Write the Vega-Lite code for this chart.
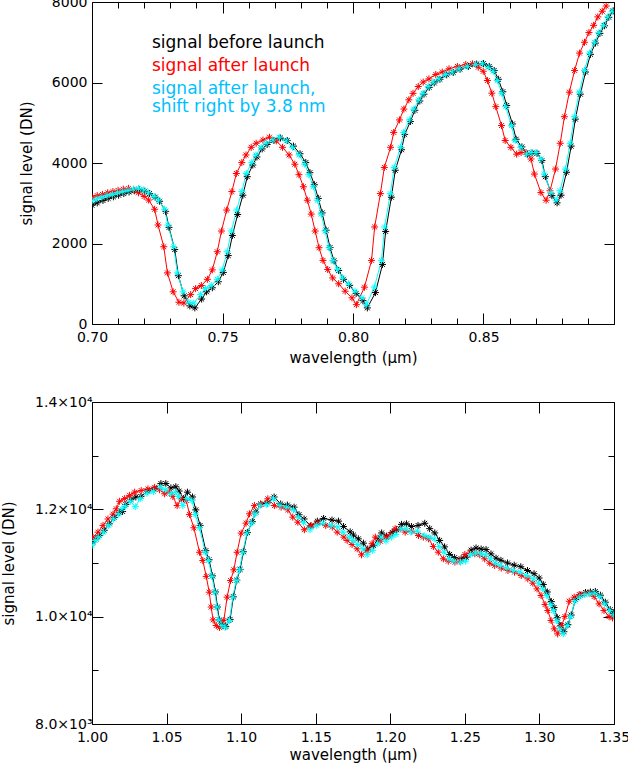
{
  "$schema": "https://vega.github.io/schema/vega-lite/v6.json",
  "background": "white",
  "padding": {"left": 1, "top": -6, "right": 0, "bottom": 0},
  "config": {
    "font": "DejaVu Sans",
    "view": {"stroke": "#000000", "strokeWidth": 1},
    "axis": {"domain": false, "grid": false, "tickColor": "#000000", "tickWidth": 1, "labelColor": "#000000", "labelFont": "DejaVu Sans", "labelFontSize": 14, "titleFont": "DejaVu Sans", "titleFontSize": 15, "titleFontWeight": "normal", "titleColor": "#000000", "labelOverlap": false, "labelFlush": false}
  },
  "bounds": "flush",
  "spacing": 78,
  "resolve": {"legend": {"color": "independent"}},
  "datasets": {
    "top": [
      {"series":"before","wl":0.7000,"sig":2950},{"series":"before","wl":0.7020,"sig":3010},{"series":"before","wl":0.7042,"sig":3070},{"series":"before","wl":0.7062,"sig":3120},{"series":"before","wl":0.7082,"sig":3160},{"series":"before","wl":0.7102,"sig":3200},{"series":"before","wl":0.7122,"sig":3240},{"series":"before","wl":0.7142,"sig":3280},{"series":"before","wl":0.7162,"sig":3310},{"series":"before","wl":0.7182,"sig":3330},{"series":"before","wl":0.7202,"sig":3300},{"series":"before","wl":0.7220,"sig":3240},{"series":"before","wl":0.7242,"sig":3150},{"series":"before","wl":0.7259,"sig":3050},{"series":"before","wl":0.7282,"sig":2800},{"series":"before","wl":0.7295,"sig":2400},{"series":"before","wl":0.7317,"sig":1850},{"series":"before","wl":0.7331,"sig":1200},{"series":"before","wl":0.7353,"sig":700},{"series":"before","wl":0.7375,"sig":450},{"series":"before","wl":0.7394,"sig":400},{"series":"before","wl":0.7420,"sig":620},{"series":"before","wl":0.7439,"sig":800},{"series":"before","wl":0.7461,"sig":900},{"series":"before","wl":0.7484,"sig":1050},{"series":"before","wl":0.7503,"sig":1280},{"series":"before","wl":0.7522,"sig":1700},{"series":"before","wl":0.7538,"sig":2200},{"series":"before","wl":0.7558,"sig":2720},{"series":"before","wl":0.7578,"sig":3200},{"series":"before","wl":0.7595,"sig":3660},{"series":"before","wl":0.7616,"sig":3950},{"series":"before","wl":0.7632,"sig":4150},{"series":"before","wl":0.7652,"sig":4350},{"series":"before","wl":0.7671,"sig":4460},{"series":"before","wl":0.7697,"sig":4560},{"series":"before","wl":0.7722,"sig":4620},{"series":"before","wl":0.7748,"sig":4560},{"series":"before","wl":0.7772,"sig":4420},{"series":"before","wl":0.7797,"sig":4230},{"series":"before","wl":0.7819,"sig":4010},{"series":"before","wl":0.7835,"sig":3760},{"series":"before","wl":0.7852,"sig":3460},{"series":"before","wl":0.7867,"sig":3120},{"series":"before","wl":0.7882,"sig":2760},{"series":"before","wl":0.7897,"sig":2330},{"series":"before","wl":0.7912,"sig":1900},{"series":"before","wl":0.7927,"sig":1570},{"series":"before","wl":0.7945,"sig":1330},{"series":"before","wl":0.7964,"sig":1110},{"series":"before","wl":0.7987,"sig":960},{"series":"before","wl":0.8012,"sig":760},{"series":"before","wl":0.8038,"sig":580},{"series":"before","wl":0.8055,"sig":400},{"series":"before","wl":0.8086,"sig":780},{"series":"before","wl":0.8113,"sig":1480},{"series":"before","wl":0.8125,"sig":2300},{"series":"before","wl":0.8147,"sig":3150},{"series":"before","wl":0.8162,"sig":3820},{"series":"before","wl":0.8186,"sig":4330},{"series":"before","wl":0.8198,"sig":4710},{"series":"before","wl":0.8220,"sig":5030},{"series":"before","wl":0.8237,"sig":5310},{"series":"before","wl":0.8256,"sig":5540},{"series":"before","wl":0.8272,"sig":5710},{"series":"before","wl":0.8292,"sig":5880},{"series":"before","wl":0.8311,"sig":5990},{"series":"before","wl":0.8333,"sig":6080},{"series":"before","wl":0.8359,"sig":6190},{"series":"before","wl":0.8384,"sig":6250},{"series":"before","wl":0.8410,"sig":6330},{"series":"before","wl":0.8442,"sig":6400},{"series":"before","wl":0.8474,"sig":6460},{"series":"before","wl":0.8500,"sig":6470},{"series":"before","wl":0.8522,"sig":6400},{"series":"before","wl":0.8541,"sig":6300},{"series":"before","wl":0.8557,"sig":6080},{"series":"before","wl":0.8574,"sig":5770},{"series":"before","wl":0.8589,"sig":5430},{"series":"before","wl":0.8611,"sig":4970},{"series":"before","wl":0.8625,"sig":4590},{"series":"before","wl":0.8647,"sig":4400},{"series":"before","wl":0.8669,"sig":4220},{"series":"before","wl":0.8686,"sig":4250},{"series":"before","wl":0.8705,"sig":4240},{"series":"before","wl":0.8724,"sig":4060},{"series":"before","wl":0.8737,"sig":3660},{"series":"before","wl":0.8762,"sig":3190},{"series":"before","wl":0.8782,"sig":3010},{"series":"before","wl":0.8797,"sig":3200},{"series":"before","wl":0.8818,"sig":3770},{"series":"before","wl":0.8836,"sig":4420},{"series":"before","wl":0.8852,"sig":5090},{"series":"before","wl":0.8871,"sig":5710},{"series":"before","wl":0.8891,"sig":6260},{"series":"before","wl":0.8910,"sig":6700},{"series":"before","wl":0.8929,"sig":6980},{"series":"before","wl":0.8946,"sig":7220},{"series":"before","wl":0.8964,"sig":7410},{"series":"before","wl":0.8980,"sig":7620},{"series":"before","wl":0.8997,"sig":7780},
      {"series":"after","wl":0.7000,"sig":3150},{"series":"after","wl":0.7020,"sig":3190},{"series":"after","wl":0.7040,"sig":3220},{"series":"after","wl":0.7060,"sig":3260},{"series":"after","wl":0.7080,"sig":3290},{"series":"after","wl":0.7100,"sig":3320},{"series":"after","wl":0.7120,"sig":3350},{"series":"after","wl":0.7140,"sig":3370},{"series":"after","wl":0.7160,"sig":3330},{"series":"after","wl":0.7178,"sig":3260},{"series":"after","wl":0.7200,"sig":3170},{"series":"after","wl":0.7217,"sig":3080},{"series":"after","wl":0.7240,"sig":2850},{"series":"after","wl":0.7253,"sig":2460},{"series":"after","wl":0.7275,"sig":1920},{"series":"after","wl":0.7289,"sig":1270},{"series":"after","wl":0.7311,"sig":800},{"series":"after","wl":0.7333,"sig":540},{"series":"after","wl":0.7352,"sig":520},{"series":"after","wl":0.7378,"sig":730},{"series":"after","wl":0.7397,"sig":880},{"series":"after","wl":0.7419,"sig":955},{"series":"after","wl":0.7442,"sig":1110},{"series":"after","wl":0.7461,"sig":1345},{"series":"after","wl":0.7480,"sig":1795},{"series":"after","wl":0.7496,"sig":2310},{"series":"after","wl":0.7516,"sig":2830},{"series":"after","wl":0.7536,"sig":3290},{"series":"after","wl":0.7553,"sig":3740},{"series":"after","wl":0.7574,"sig":4010},{"series":"after","wl":0.7590,"sig":4200},{"series":"after","wl":0.7610,"sig":4390},{"series":"after","wl":0.7629,"sig":4490},{"series":"after","wl":0.7655,"sig":4570},{"series":"after","wl":0.7680,"sig":4640},{"series":"after","wl":0.7706,"sig":4550},{"series":"after","wl":0.7730,"sig":4390},{"series":"after","wl":0.7755,"sig":4200},{"series":"after","wl":0.7777,"sig":3970},{"series":"after","wl":0.7793,"sig":3710},{"series":"after","wl":0.7810,"sig":3410},{"series":"after","wl":0.7825,"sig":3075},{"series":"after","wl":0.7840,"sig":2730},{"series":"after","wl":0.7855,"sig":2310},{"series":"after","wl":0.7870,"sig":1895},{"series":"after","wl":0.7885,"sig":1580},{"series":"after","wl":0.7903,"sig":1355},{"series":"after","wl":0.7922,"sig":1145},{"series":"after","wl":0.7945,"sig":1000},{"series":"after","wl":0.7970,"sig":815},{"series":"after","wl":0.7996,"sig":650},{"series":"after","wl":0.8013,"sig":480},{"series":"after","wl":0.8044,"sig":915},{"series":"after","wl":0.8071,"sig":1580},{"series":"after","wl":0.8083,"sig":2410},{"series":"after","wl":0.8105,"sig":3240},{"series":"after","wl":0.8120,"sig":3890},{"series":"after","wl":0.8144,"sig":4390},{"series":"after","wl":0.8156,"sig":4760},{"series":"after","wl":0.8178,"sig":5070},{"series":"after","wl":0.8195,"sig":5340},{"series":"after","wl":0.8214,"sig":5570},{"series":"after","wl":0.8230,"sig":5730},{"series":"after","wl":0.8250,"sig":5900},{"series":"after","wl":0.8269,"sig":6010},{"series":"after","wl":0.8291,"sig":6090},{"series":"after","wl":0.8317,"sig":6200},{"series":"after","wl":0.8342,"sig":6260},{"series":"after","wl":0.8368,"sig":6340},{"series":"after","wl":0.8400,"sig":6400},{"series":"after","wl":0.8432,"sig":6450},{"series":"after","wl":0.8458,"sig":6465},{"series":"after","wl":0.8480,"sig":6380},{"series":"after","wl":0.8499,"sig":6280},{"series":"after","wl":0.8515,"sig":6050},{"series":"after","wl":0.8532,"sig":5735},{"series":"after","wl":0.8547,"sig":5400},{"series":"after","wl":0.8569,"sig":4930},{"series":"after","wl":0.8583,"sig":4560},{"series":"after","wl":0.8605,"sig":4390},{"series":"after","wl":0.8627,"sig":4220},{"series":"after","wl":0.8644,"sig":4260},{"series":"after","wl":0.8663,"sig":4260},{"series":"after","wl":0.8682,"sig":4100},{"series":"after","wl":0.8695,"sig":3725},{"series":"after","wl":0.8720,"sig":3265},{"series":"after","wl":0.8740,"sig":3075},{"series":"after","wl":0.8755,"sig":3310},{"series":"after","wl":0.8776,"sig":3850},{"series":"after","wl":0.8794,"sig":4490},{"series":"after","wl":0.8810,"sig":5150},{"series":"after","wl":0.8829,"sig":5760},{"series":"after","wl":0.8849,"sig":6300},{"series":"after","wl":0.8868,"sig":6730},{"series":"after","wl":0.8887,"sig":7000},{"series":"after","wl":0.8904,"sig":7240},{"series":"after","wl":0.8922,"sig":7420},{"series":"after","wl":0.8938,"sig":7630},{"series":"after","wl":0.8955,"sig":7770},{"series":"after","wl":0.8970,"sig":7900},
      {"series":"shifted","wl":0.7000,"sig":3060},{"series":"shifted","wl":0.7019,"sig":3110},{"series":"shifted","wl":0.7038,"sig":3150},{"series":"shifted","wl":0.7058,"sig":3190},{"series":"shifted","wl":0.7078,"sig":3220},{"series":"shifted","wl":0.7098,"sig":3260},{"series":"shifted","wl":0.7118,"sig":3290},{"series":"shifted","wl":0.7138,"sig":3320},{"series":"shifted","wl":0.7158,"sig":3350},{"series":"shifted","wl":0.7178,"sig":3370},{"series":"shifted","wl":0.7198,"sig":3330},{"series":"shifted","wl":0.7216,"sig":3260},{"series":"shifted","wl":0.7238,"sig":3170},{"series":"shifted","wl":0.7255,"sig":3080},{"series":"shifted","wl":0.7278,"sig":2850},{"series":"shifted","wl":0.7291,"sig":2460},{"series":"shifted","wl":0.7313,"sig":1920},{"series":"shifted","wl":0.7327,"sig":1270},{"series":"shifted","wl":0.7349,"sig":800},{"series":"shifted","wl":0.7371,"sig":540},{"series":"shifted","wl":0.7390,"sig":520},{"series":"shifted","wl":0.7416,"sig":730},{"series":"shifted","wl":0.7435,"sig":880},{"series":"shifted","wl":0.7457,"sig":955},{"series":"shifted","wl":0.7480,"sig":1110},{"series":"shifted","wl":0.7499,"sig":1345},{"series":"shifted","wl":0.7518,"sig":1795},{"series":"shifted","wl":0.7534,"sig":2310},{"series":"shifted","wl":0.7554,"sig":2830},{"series":"shifted","wl":0.7574,"sig":3290},{"series":"shifted","wl":0.7591,"sig":3740},{"series":"shifted","wl":0.7612,"sig":4010},{"series":"shifted","wl":0.7628,"sig":4200},{"series":"shifted","wl":0.7648,"sig":4390},{"series":"shifted","wl":0.7667,"sig":4490},{"series":"shifted","wl":0.7693,"sig":4570},{"series":"shifted","wl":0.7718,"sig":4640},{"series":"shifted","wl":0.7744,"sig":4550},{"series":"shifted","wl":0.7768,"sig":4390},{"series":"shifted","wl":0.7793,"sig":4200},{"series":"shifted","wl":0.7815,"sig":3970},{"series":"shifted","wl":0.7831,"sig":3710},{"series":"shifted","wl":0.7848,"sig":3410},{"series":"shifted","wl":0.7863,"sig":3075},{"series":"shifted","wl":0.7878,"sig":2730},{"series":"shifted","wl":0.7893,"sig":2310},{"series":"shifted","wl":0.7908,"sig":1895},{"series":"shifted","wl":0.7923,"sig":1580},{"series":"shifted","wl":0.7941,"sig":1355},{"series":"shifted","wl":0.7960,"sig":1145},{"series":"shifted","wl":0.7983,"sig":1000},{"series":"shifted","wl":0.8008,"sig":815},{"series":"shifted","wl":0.8034,"sig":650},{"series":"shifted","wl":0.8051,"sig":480},{"series":"shifted","wl":0.8082,"sig":915},{"series":"shifted","wl":0.8109,"sig":1580},{"series":"shifted","wl":0.8121,"sig":2410},{"series":"shifted","wl":0.8143,"sig":3240},{"series":"shifted","wl":0.8158,"sig":3890},{"series":"shifted","wl":0.8182,"sig":4390},{"series":"shifted","wl":0.8194,"sig":4760},{"series":"shifted","wl":0.8216,"sig":5070},{"series":"shifted","wl":0.8233,"sig":5340},{"series":"shifted","wl":0.8252,"sig":5570},{"series":"shifted","wl":0.8268,"sig":5730},{"series":"shifted","wl":0.8288,"sig":5900},{"series":"shifted","wl":0.8307,"sig":6010},{"series":"shifted","wl":0.8329,"sig":6090},{"series":"shifted","wl":0.8355,"sig":6200},{"series":"shifted","wl":0.8380,"sig":6260},{"series":"shifted","wl":0.8406,"sig":6340},{"series":"shifted","wl":0.8438,"sig":6400},{"series":"shifted","wl":0.8470,"sig":6450},{"series":"shifted","wl":0.8496,"sig":6465},{"series":"shifted","wl":0.8518,"sig":6380},{"series":"shifted","wl":0.8537,"sig":6280},{"series":"shifted","wl":0.8553,"sig":6050},{"series":"shifted","wl":0.8570,"sig":5735},{"series":"shifted","wl":0.8585,"sig":5400},{"series":"shifted","wl":0.8607,"sig":4930},{"series":"shifted","wl":0.8621,"sig":4560},{"series":"shifted","wl":0.8643,"sig":4390},{"series":"shifted","wl":0.8665,"sig":4220},{"series":"shifted","wl":0.8682,"sig":4260},{"series":"shifted","wl":0.8701,"sig":4260},{"series":"shifted","wl":0.8720,"sig":4100},{"series":"shifted","wl":0.8733,"sig":3725},{"series":"shifted","wl":0.8758,"sig":3265},{"series":"shifted","wl":0.8778,"sig":3075},{"series":"shifted","wl":0.8793,"sig":3310},{"series":"shifted","wl":0.8814,"sig":3850},{"series":"shifted","wl":0.8832,"sig":4490},{"series":"shifted","wl":0.8848,"sig":5150},{"series":"shifted","wl":0.8867,"sig":5760},{"series":"shifted","wl":0.8887,"sig":6300},{"series":"shifted","wl":0.8906,"sig":6730},{"series":"shifted","wl":0.8925,"sig":7000},{"series":"shifted","wl":0.8942,"sig":7240},{"series":"shifted","wl":0.8960,"sig":7420},{"series":"shifted","wl":0.8976,"sig":7630},{"series":"shifted","wl":0.8993,"sig":7770}
    ],
    "bottom": [
      {"series":"before","wl":1.0004,"sig":11390},{"series":"before","wl":1.0026,"sig":11450},{"series":"before","wl":1.0049,"sig":11510},{"series":"before","wl":1.0082,"sig":11610},{"series":"before","wl":1.0116,"sig":11730},{"series":"before","wl":1.0149,"sig":11850},{"series":"before","wl":1.0183,"sig":11940},{"series":"before","wl":1.0205,"sig":11960},{"series":"before","wl":1.0227,"sig":12090},{"series":"before","wl":1.0261,"sig":12180},{"series":"before","wl":1.0294,"sig":12230},{"series":"before","wl":1.0328,"sig":12240},{"series":"before","wl":1.0372,"sig":12340},{"series":"before","wl":1.0417,"sig":12380},{"series":"before","wl":1.0462,"sig":12480},{"series":"before","wl":1.0495,"sig":12480},{"series":"before","wl":1.0529,"sig":12400},{"series":"before","wl":1.0562,"sig":12420},{"series":"before","wl":1.0584,"sig":12340},{"series":"before","wl":1.0613,"sig":12200},{"series":"before","wl":1.0640,"sig":12320},{"series":"before","wl":1.0674,"sig":12230},{"series":"before","wl":1.0696,"sig":11990},{"series":"before","wl":1.0725,"sig":11700},{"series":"before","wl":1.0763,"sig":11230},{"series":"before","wl":1.0785,"sig":11060},{"series":"before","wl":1.0808,"sig":10760},{"series":"before","wl":1.0828,"sig":10460},{"series":"before","wl":1.0841,"sig":10180},{"series":"before","wl":1.0854,"sig":9940},{"series":"before","wl":1.0875,"sig":9840},{"series":"before","wl":1.0897,"sig":9820},{"series":"before","wl":1.0926,"sig":9950},{"series":"before","wl":1.0948,"sig":10370},{"series":"before","wl":1.0971,"sig":10680},{"series":"before","wl":1.0993,"sig":10880},{"series":"before","wl":1.1015,"sig":11210},{"series":"before","wl":1.1042,"sig":11570},{"series":"before","wl":1.1075,"sig":11770},{"series":"before","wl":1.1098,"sig":11950},{"series":"before","wl":1.1131,"sig":12100},{"series":"before","wl":1.1176,"sig":12120},{"series":"before","wl":1.1221,"sig":12230},{"series":"before","wl":1.1265,"sig":12100},{"series":"before","wl":1.1310,"sig":12080},{"series":"before","wl":1.1355,"sig":12040},{"series":"before","wl":1.1388,"sig":11900},{"series":"before","wl":1.1422,"sig":11820},{"series":"before","wl":1.1466,"sig":11690},{"series":"before","wl":1.1511,"sig":11780},{"series":"before","wl":1.1553,"sig":11830},{"series":"before","wl":1.1609,"sig":11800},{"series":"before","wl":1.1653,"sig":11780},{"series":"before","wl":1.1686,"sig":11680},{"series":"before","wl":1.1731,"sig":11580},{"series":"before","wl":1.1753,"sig":11520},{"series":"before","wl":1.1786,"sig":11450},{"series":"before","wl":1.1820,"sig":11370},{"series":"before","wl":1.1849,"sig":11260},{"series":"before","wl":1.1886,"sig":11330},{"series":"before","wl":1.1920,"sig":11450},{"series":"before","wl":1.1942,"sig":11560},{"series":"before","wl":1.1975,"sig":11500},{"series":"before","wl":1.2013,"sig":11570},{"series":"before","wl":1.2042,"sig":11620},{"series":"before","wl":1.2075,"sig":11720},{"series":"before","wl":1.2109,"sig":11730},{"series":"before","wl":1.2142,"sig":11680},{"series":"before","wl":1.2186,"sig":11700},{"series":"before","wl":1.2231,"sig":11740},{"series":"before","wl":1.2264,"sig":11640},{"series":"before","wl":1.2298,"sig":11560},{"series":"before","wl":1.2331,"sig":11420},{"series":"before","wl":1.2364,"sig":11300},{"series":"before","wl":1.2398,"sig":11160},{"series":"before","wl":1.2431,"sig":11100},{"series":"before","wl":1.2475,"sig":11080},{"series":"before","wl":1.2509,"sig":11110},{"series":"before","wl":1.2542,"sig":11240},{"series":"before","wl":1.2575,"sig":11280},{"series":"before","wl":1.2609,"sig":11260},{"series":"before","wl":1.2642,"sig":11250},{"series":"before","wl":1.2675,"sig":11170},{"series":"before","wl":1.2709,"sig":11090},{"series":"before","wl":1.2742,"sig":11050},{"series":"before","wl":1.2786,"sig":11000},{"series":"before","wl":1.2831,"sig":10960},{"series":"before","wl":1.2875,"sig":10930},{"series":"before","wl":1.2920,"sig":10860},{"series":"before","wl":1.2964,"sig":10800},{"series":"before","wl":1.2998,"sig":10720},{"series":"before","wl":1.3026,"sig":10600},{"series":"before","wl":1.3053,"sig":10460},{"series":"before","wl":1.3080,"sig":10280},{"series":"before","wl":1.3098,"sig":10170},{"series":"before","wl":1.3120,"sig":9980},{"series":"before","wl":1.3142,"sig":9830},{"series":"before","wl":1.3164,"sig":9720},{"series":"before","wl":1.3191,"sig":9850},{"series":"before","wl":1.3213,"sig":10030},{"series":"before","wl":1.3242,"sig":10320},{"series":"before","wl":1.3275,"sig":10400},{"series":"before","wl":1.3309,"sig":10450},{"series":"before","wl":1.3342,"sig":10460},{"series":"before","wl":1.3375,"sig":10470},{"series":"before","wl":1.3409,"sig":10400},{"series":"before","wl":1.3442,"sig":10270},{"series":"before","wl":1.3475,"sig":10130},{"series":"before","wl":1.3498,"sig":10060},
      {"series":"after","wl":1.0007,"sig":11480},{"series":"after","wl":1.0040,"sig":11575},{"series":"after","wl":1.0074,"sig":11700},{"series":"after","wl":1.0107,"sig":11820},{"series":"after","wl":1.0141,"sig":11910},{"series":"after","wl":1.0163,"sig":12010},{"series":"after","wl":1.0185,"sig":12150},{"series":"after","wl":1.0219,"sig":12200},{"series":"after","wl":1.0252,"sig":12260},{"series":"after","wl":1.0286,"sig":12320},{"series":"after","wl":1.0330,"sig":12350},{"series":"after","wl":1.0375,"sig":12380},{"series":"after","wl":1.0420,"sig":12410},{"series":"after","wl":1.0453,"sig":12365},{"series":"after","wl":1.0487,"sig":12290},{"series":"after","wl":1.0520,"sig":12320},{"series":"after","wl":1.0542,"sig":12240},{"series":"after","wl":1.0571,"sig":12070},{"series":"after","wl":1.0598,"sig":12200},{"series":"after","wl":1.0632,"sig":12165},{"series":"after","wl":1.0654,"sig":11905},{"series":"after","wl":1.0683,"sig":11656},{"series":"after","wl":1.0721,"sig":11200},{"series":"after","wl":1.0743,"sig":11047},{"series":"after","wl":1.0766,"sig":10750},{"series":"after","wl":1.0786,"sig":10456},{"series":"after","wl":1.0799,"sig":10180},{"series":"after","wl":1.0812,"sig":9940},{"series":"after","wl":1.0833,"sig":9835},{"series":"after","wl":1.0855,"sig":9800},{"series":"after","wl":1.0884,"sig":9928},{"series":"after","wl":1.0906,"sig":10363},{"series":"after","wl":1.0929,"sig":10674},{"series":"after","wl":1.0951,"sig":10873},{"series":"after","wl":1.0973,"sig":11200},{"series":"after","wl":1.1000,"sig":11557},{"series":"after","wl":1.1033,"sig":11743},{"series":"after","wl":1.1056,"sig":11917},{"series":"after","wl":1.1089,"sig":12070},{"series":"after","wl":1.1134,"sig":12090},{"series":"after","wl":1.1179,"sig":12197},{"series":"after","wl":1.1223,"sig":12070},{"series":"after","wl":1.1268,"sig":12040},{"series":"after","wl":1.1313,"sig":11990},{"series":"after","wl":1.1346,"sig":11855},{"series":"after","wl":1.1380,"sig":11760},{"series":"after","wl":1.1424,"sig":11620},{"series":"after","wl":1.1469,"sig":11700},{"series":"after","wl":1.1511,"sig":11743},{"series":"after","wl":1.1567,"sig":11700},{"series":"after","wl":1.1611,"sig":11670},{"series":"after","wl":1.1644,"sig":11575},{"series":"after","wl":1.1689,"sig":11482},{"series":"after","wl":1.1711,"sig":11420},{"series":"after","wl":1.1744,"sig":11345},{"series":"after","wl":1.1778,"sig":11265},{"series":"after","wl":1.1807,"sig":11153},{"series":"after","wl":1.1844,"sig":11234},{"series":"after","wl":1.1878,"sig":11360},{"series":"after","wl":1.1900,"sig":11482},{"series":"after","wl":1.1933,"sig":11407},{"series":"after","wl":1.1971,"sig":11482},{"series":"after","wl":1.2000,"sig":11532},{"series":"after","wl":1.2033,"sig":11638},{"series":"after","wl":1.2067,"sig":11638},{"series":"after","wl":1.2100,"sig":11575},{"series":"after","wl":1.2144,"sig":11594},{"series":"after","wl":1.2189,"sig":11513},{"series":"after","wl":1.2222,"sig":11482},{"series":"after","wl":1.2256,"sig":11450},{"series":"after","wl":1.2289,"sig":11308},{"series":"after","wl":1.2322,"sig":11202},{"series":"after","wl":1.2356,"sig":11078},{"series":"after","wl":1.2389,"sig":11034},{"series":"after","wl":1.2433,"sig":11016},{"series":"after","wl":1.2467,"sig":11034},{"series":"after","wl":1.2500,"sig":11159},{"series":"after","wl":1.2533,"sig":11184},{"series":"after","wl":1.2567,"sig":11171},{"series":"after","wl":1.2600,"sig":11153},{"series":"after","wl":1.2633,"sig":11078},{"series":"after","wl":1.2667,"sig":10997},{"series":"after","wl":1.2700,"sig":10954},{"series":"after","wl":1.2744,"sig":10904},{"series":"after","wl":1.2789,"sig":10860},{"series":"after","wl":1.2833,"sig":10829},{"series":"after","wl":1.2878,"sig":10767},{"series":"after","wl":1.2922,"sig":10705},{"series":"after","wl":1.2956,"sig":10624},{"series":"after","wl":1.2984,"sig":10518},{"series":"after","wl":1.3011,"sig":10394},{"series":"after","wl":1.3038,"sig":10226},{"series":"after","wl":1.3056,"sig":10114},{"series":"after","wl":1.3078,"sig":9928},{"series":"after","wl":1.3100,"sig":9772},{"series":"after","wl":1.3122,"sig":9679},{"series":"after","wl":1.3149,"sig":9835},{"series":"after","wl":1.3171,"sig":10002},{"series":"after","wl":1.3200,"sig":10288},{"series":"after","wl":1.3233,"sig":10363},{"series":"after","wl":1.3267,"sig":10413},{"series":"after","wl":1.3300,"sig":10425},{"series":"after","wl":1.3333,"sig":10438},{"series":"after","wl":1.3367,"sig":10375},{"series":"after","wl":1.3400,"sig":10239},{"series":"after","wl":1.3433,"sig":10114},{"series":"after","wl":1.3467,"sig":10002},{"series":"after","wl":1.3490,"sig":9977},
      {"series":"shifted","wl":1.0000,"sig":11330},{"series":"shifted","wl":1.0022,"sig":11420},{"series":"shifted","wl":1.0045,"sig":11480},{"series":"shifted","wl":1.0078,"sig":11575},{"series":"shifted","wl":1.0112,"sig":11700},{"series":"shifted","wl":1.0145,"sig":11820},{"series":"shifted","wl":1.0179,"sig":11910},{"series":"shifted","wl":1.0201,"sig":12010},{"series":"shifted","wl":1.0223,"sig":12060},{"series":"shifted","wl":1.0257,"sig":12150},{"series":"shifted","wl":1.0290,"sig":12050},{"series":"shifted","wl":1.0324,"sig":12200},{"series":"shifted","wl":1.0368,"sig":12300},{"series":"shifted","wl":1.0413,"sig":12330},{"series":"shifted","wl":1.0458,"sig":12410},{"series":"shifted","wl":1.0491,"sig":12365},{"series":"shifted","wl":1.0525,"sig":12290},{"series":"shifted","wl":1.0558,"sig":12320},{"series":"shifted","wl":1.0580,"sig":12240},{"series":"shifted","wl":1.0609,"sig":12070},{"series":"shifted","wl":1.0636,"sig":12200},{"series":"shifted","wl":1.0670,"sig":12165},{"series":"shifted","wl":1.0692,"sig":11905},{"series":"shifted","wl":1.0721,"sig":11656},{"series":"shifted","wl":1.0759,"sig":11200},{"series":"shifted","wl":1.0781,"sig":11047},{"series":"shifted","wl":1.0804,"sig":10750},{"series":"shifted","wl":1.0824,"sig":10456},{"series":"shifted","wl":1.0837,"sig":10180},{"series":"shifted","wl":1.0850,"sig":9940},{"series":"shifted","wl":1.0871,"sig":9835},{"series":"shifted","wl":1.0893,"sig":9800},{"series":"shifted","wl":1.0922,"sig":9928},{"series":"shifted","wl":1.0944,"sig":10363},{"series":"shifted","wl":1.0967,"sig":10674},{"series":"shifted","wl":1.0989,"sig":10873},{"series":"shifted","wl":1.1011,"sig":11200},{"series":"shifted","wl":1.1038,"sig":11557},{"series":"shifted","wl":1.1071,"sig":11743},{"series":"shifted","wl":1.1094,"sig":11917},{"series":"shifted","wl":1.1127,"sig":12070},{"series":"shifted","wl":1.1172,"sig":12090},{"series":"shifted","wl":1.1217,"sig":12197},{"series":"shifted","wl":1.1261,"sig":12070},{"series":"shifted","wl":1.1306,"sig":12040},{"series":"shifted","wl":1.1351,"sig":11990},{"series":"shifted","wl":1.1384,"sig":11855},{"series":"shifted","wl":1.1418,"sig":11760},{"series":"shifted","wl":1.1462,"sig":11620},{"series":"shifted","wl":1.1507,"sig":11700},{"series":"shifted","wl":1.1549,"sig":11743},{"series":"shifted","wl":1.1605,"sig":11700},{"series":"shifted","wl":1.1649,"sig":11670},{"series":"shifted","wl":1.1682,"sig":11575},{"series":"shifted","wl":1.1727,"sig":11482},{"series":"shifted","wl":1.1749,"sig":11420},{"series":"shifted","wl":1.1782,"sig":11345},{"series":"shifted","wl":1.1816,"sig":11265},{"series":"shifted","wl":1.1845,"sig":11153},{"series":"shifted","wl":1.1882,"sig":11234},{"series":"shifted","wl":1.1916,"sig":11360},{"series":"shifted","wl":1.1938,"sig":11482},{"series":"shifted","wl":1.1971,"sig":11407},{"series":"shifted","wl":1.2009,"sig":11482},{"series":"shifted","wl":1.2038,"sig":11532},{"series":"shifted","wl":1.2071,"sig":11638},{"series":"shifted","wl":1.2105,"sig":11638},{"series":"shifted","wl":1.2138,"sig":11575},{"series":"shifted","wl":1.2182,"sig":11594},{"series":"shifted","wl":1.2227,"sig":11513},{"series":"shifted","wl":1.2260,"sig":11482},{"series":"shifted","wl":1.2294,"sig":11450},{"series":"shifted","wl":1.2327,"sig":11308},{"series":"shifted","wl":1.2360,"sig":11202},{"series":"shifted","wl":1.2394,"sig":11078},{"series":"shifted","wl":1.2427,"sig":11034},{"series":"shifted","wl":1.2471,"sig":11016},{"series":"shifted","wl":1.2505,"sig":11034},{"series":"shifted","wl":1.2538,"sig":11159},{"series":"shifted","wl":1.2571,"sig":11184},{"series":"shifted","wl":1.2605,"sig":11171},{"series":"shifted","wl":1.2638,"sig":11153},{"series":"shifted","wl":1.2671,"sig":11078},{"series":"shifted","wl":1.2705,"sig":10997},{"series":"shifted","wl":1.2738,"sig":10954},{"series":"shifted","wl":1.2782,"sig":10904},{"series":"shifted","wl":1.2827,"sig":10860},{"series":"shifted","wl":1.2871,"sig":10829},{"series":"shifted","wl":1.2916,"sig":10767},{"series":"shifted","wl":1.2960,"sig":10705},{"series":"shifted","wl":1.2994,"sig":10624},{"series":"shifted","wl":1.3022,"sig":10518},{"series":"shifted","wl":1.3049,"sig":10394},{"series":"shifted","wl":1.3076,"sig":10226},{"series":"shifted","wl":1.3094,"sig":10114},{"series":"shifted","wl":1.3116,"sig":9928},{"series":"shifted","wl":1.3138,"sig":9772},{"series":"shifted","wl":1.3160,"sig":9679},{"series":"shifted","wl":1.3187,"sig":9835},{"series":"shifted","wl":1.3209,"sig":10002},{"series":"shifted","wl":1.3238,"sig":10288},{"series":"shifted","wl":1.3271,"sig":10363},{"series":"shifted","wl":1.3305,"sig":10413},{"series":"shifted","wl":1.3338,"sig":10425},{"series":"shifted","wl":1.3371,"sig":10438},{"series":"shifted","wl":1.3405,"sig":10375},{"series":"shifted","wl":1.3438,"sig":10239},{"series":"shifted","wl":1.3471,"sig":10114},{"series":"shifted","wl":1.3498,"sig":10030}
    ]
  },
  "vconcat": [
    {
      "width": 522,
      "height": 322,
      "data": {"name": "top"},
      "encoding": {
        "color": {
          "field": "series", "type": "nominal",
          "scale": {"domain": ["before", "after", "shifted"], "range": ["#000000", "#ff0000", "#00ffff"]},
          "legend": {
            "orient": "none", "legendX": 43, "legendY": 32, "title": null,
            "symbolSize": 0, "symbolStrokeWidth": 0, "symbolOpacity": 0, "labelOffset": 0,
            "labelFont": "DejaVu Sans", "labelFontSize": 17, "labelLimit": 500, "rowPadding": 5,
            "labelExpr": "datum.value == 'shifted' ? ['signal after launch,', 'shift right by 3.8 nm'] : datum.value == 'before' ? 'signal before launch' : 'signal after launch'",
            "encode": {"labels": {"update": {"fill": {"signal": "datum.value == 'before' ? '#000000' : datum.value == 'after' ? '#ff0000' : '#00bfff'"}, "lineHeight": {"value": 18}}}}
          }
        }
      },
      "layer": [
        {
          "mark": {"type": "line", "strokeWidth": 1, "clip": true},
          "encoding": {
            "x": {"field": "wl", "type": "quantitative", "scale": {"domain": [0.7, 0.9], "nice": false, "zero": false},
              "axis": {"orient": "bottom", "title": "wavelength (μm)", "titlePadding": 1, "labelPadding": 17,
                "values": [0.70,0.71,0.72,0.73,0.74,0.75,0.76,0.77,0.78,0.79,0.80,0.81,0.82,0.83,0.84,0.85,0.86,0.87,0.88,0.89,0.90],
                "tickSize": {"condition": {"test": "round(datum.value*100) % 5 == 0", "value": -11}, "value": -6},
                "labelExpr": "round(datum.value*100) % 5 == 0 && datum.value < 0.895 ? format(datum.value, '.2f') : ''"}},
            "y": {"field": "sig", "type": "quantitative", "scale": {"domain": [0, 8000], "nice": false},
              "axis": {"orient": "left", "title": "signal level (DN)", "titlePadding": 17, "labelPadding": 15,
                "values": [0, 2000, 4000, 6000, 8000], "tickSize": -10, "format": "d"}}
          }
        },
        {
          "mark": {"type": "point", "shape": "M-1,0L1,0M0,-1L0,1M-0.7,-0.7L0.7,0.7M-0.7,0.7L0.7,-0.7", "size": 49, "strokeWidth": 1, "filled": false, "opacity": 1, "clip": true},
          "encoding": {
            "x": {"field": "wl", "type": "quantitative",
              "axis": {"orient": "top", "title": null, "labels": false,
                "values": [0.70,0.71,0.72,0.73,0.74,0.75,0.76,0.77,0.78,0.79,0.80,0.81,0.82,0.83,0.84,0.85,0.86,0.87,0.88,0.89,0.90],
                "tickSize": {"condition": {"test": "round(datum.value*100) % 5 == 0", "value": -11}, "value": -6}}},
            "y": {"field": "sig", "type": "quantitative",
              "axis": {"orient": "right", "title": null, "labels": false, "values": [0, 2000, 4000, 6000, 8000], "tickSize": -10}}
          }
        }
      ]
    },
    {
      "width": 522,
      "height": 322,
      "data": {"name": "bottom"},
      "encoding": {
        "color": {
          "field": "series", "type": "nominal",
          "scale": {"domain": ["before", "after", "shifted"], "range": ["#000000", "#ff0000", "#00ffff"]},
          "legend": null
        }
      },
      "layer": [
        {
          "mark": {"type": "line", "strokeWidth": 1, "clip": true},
          "encoding": {
            "x": {"field": "wl", "type": "quantitative", "scale": {"domain": [1.0, 1.35], "nice": false, "zero": false},
              "axis": {"orient": "bottom", "title": "wavelength (μm)", "titlePadding": 3, "labelPadding": 17,
                "values": [1.0, 1.05, 1.1, 1.15, 1.2, 1.25, 1.3, 1.35], "tickSize": -11, "format": ".2f"}},
            "y": {"field": "sig", "type": "quantitative", "scale": {"domain": [8000, 14000], "nice": false, "zero": false},
              "axis": {"orient": "left", "title": "signal level (DN)", "titlePadding": 18, "labelPadding": 11,
                "values": [8000, 9000, 10000, 11000, 12000, 13000, 14000],
                "tickSize": {"condition": {"test": "datum.value % 2000 == 0", "value": -11}, "value": -6},
                "labelExpr": "datum.value % 2000 == 0 ? (datum.value >= 10000 ? format(datum.value/10000, '.1f') + '×10⁴' : format(datum.value/1000, '.1f') + '×10³') : ''"}}
          }
        },
        {
          "mark": {"type": "point", "shape": "M-1,0L1,0M0,-1L0,1M-0.7,-0.7L0.7,0.7M-0.7,0.7L0.7,-0.7", "size": 49, "strokeWidth": 1, "filled": false, "opacity": 1, "clip": true},
          "encoding": {
            "x": {"field": "wl", "type": "quantitative",
              "axis": {"orient": "top", "title": null, "labels": false, "values": [1.0, 1.05, 1.1, 1.15, 1.2, 1.25, 1.3, 1.35], "tickSize": -11}},
            "y": {"field": "sig", "type": "quantitative",
              "axis": {"orient": "right", "title": null, "labels": false,
                "values": [8000, 9000, 10000, 11000, 12000, 13000, 14000],
                "tickSize": {"condition": {"test": "datum.value % 2000 == 0", "value": -11}, "value": -6}}}
          }
        }
      ]
    }
  ]
}
